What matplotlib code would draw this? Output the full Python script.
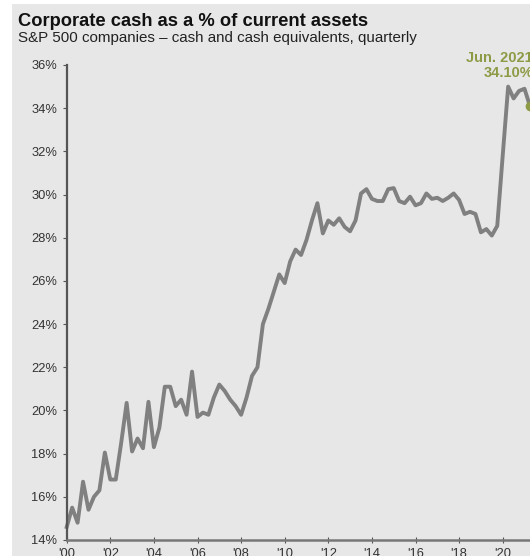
import matplotlib
matplotlib.use("Agg")
from matplotlib import pyplot as plt
from matplotlib.patches import Rectangle

plt.rcParams['font.family'] = ['Liberation Sans', 'DejaVu Sans']

# quarterly, starting 2000 Q1 (% of current assets)
cash_pct = [
    14.6, 15.5, 14.8, 16.7, 15.4, 16.0, 16.3, 18.05,   # 2000-01
    16.8, 16.8, 18.5, 20.35, 18.1, 18.7, 18.25, 20.4,  # 2002-03
    18.3, 19.2, 21.1, 21.1, 20.2, 20.5, 19.8, 21.8,    # 2004-05
    19.7, 19.9, 19.8, 20.6, 21.2, 20.9, 20.5, 20.2,    # 2006-07
    19.8, 20.6, 21.6, 22.0, 24.0, 24.7, 25.5, 26.3,    # 2008-09
    25.9, 26.9, 27.45, 27.2, 27.9, 28.8, 29.6, 28.2,   # 2010-11
    28.8, 28.6, 28.9, 28.5, 28.3, 28.8, 30.05, 30.25,  # 2012-13
    29.8, 29.7, 29.7, 30.25, 30.3, 29.7, 29.6, 29.9,   # 2014-15
    29.5, 29.6, 30.05, 29.8, 29.85, 29.7, 29.85, 30.05,  # 2016-17
    29.75, 29.1, 29.2, 29.1, 28.25, 28.4, 28.1, 28.55,   # 2018-19
    31.8, 35.0, 34.45, 34.8, 34.9, 34.1,               # 2020-21 Q2
]
years = [2000 + i / 4 for i in range(len(cash_pct))]
tick_years = list(range(2000, 2021, 2))
tick_labels = ["'%02d" % (y % 100) for y in tick_years]
y_ticks = list(range(14, 37, 2))
note_lines = ["Jun. 2021", "34.10%"]

bg = '#e7e7e7'
green = '#8e9a45'
W, H = 530, 556

fig = plt.figure(figsize=(5.3, 5.56), dpi=100)
fig.patch.set_facecolor('white')
fig.patches.append(Rectangle((12 / W, 0), 1, 1 - 4 / H, transform=fig.transFigure,
                             facecolor=bg, edgecolor='none', zorder=-10))

ax = fig.add_axes([66.7 / W, 16 / H, 468.7 / W, 475 / H])
ax.set_facecolor(bg)
ax.plot(years, cash_pct, color='#808080', lw=2.8, clip_on=False)
ax.plot(years[-1], cash_pct[-1], 'o', color=green, ms=6, clip_on=False, zorder=5)

ax.set_xlim(2000, 2021.5)
ax.set_ylim(14, 36)
ax.set_xticks(tick_years)
ax.set_xticklabels(tick_labels)
ax.set_yticks(y_ticks)
ax.set_yticklabels(['%d%%' % v for v in y_ticks])

for s in ['top', 'right']:
    ax.spines[s].set_visible(False)
ax.spines['left'].set_color('#555555')
ax.spines['left'].set_linewidth(1.6)
ax.spines['bottom'].set_color('#777777')
ax.spines['bottom'].set_linewidth(1.8)
ax.tick_params(axis='y', length=3, width=0.8, color='#555555', pad=4,
               labelsize=9.3, labelcolor='#333333')
ax.tick_params(axis='x', length=4, width=0.8, direction='inout', color='#555555',
               pad=4, labelsize=9.3, labelcolor='#333333')

fig.text(18 / W, 1 - 26.5 / H, 'Corporate cash as a % of current assets',
         fontsize=13.2, fontweight='bold', color='#111111', va='baseline')
fig.text(18 / W, 1 - 42 / H, 'S&P 500 companies \u2013 cash and cash equivalents, quarterly',
         fontsize=10.9, color='#222222', va='baseline')

for k, line in enumerate(note_lines):
    fig.text(533 / W, 1 - (62 + 15 * k) / H, line, color=green, fontsize=10.5,
             fontweight='bold', ha='right', va='baseline')

fig.savefig('out.png', dpi=100, facecolor=fig.get_facecolor())
